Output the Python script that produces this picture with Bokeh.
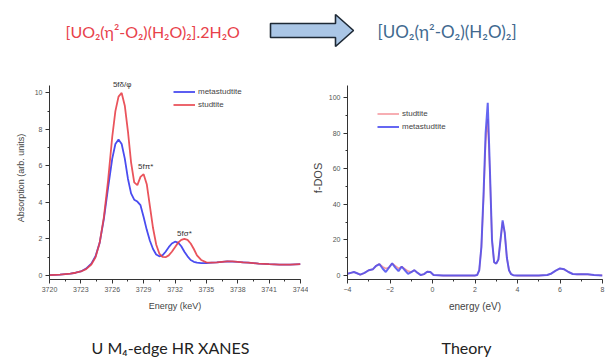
from bokeh.plotting import figure
from bokeh.layouts import column, row
from bokeh.models import (Range1d, Label, Legend, LegendItem, SingleIntervalTicker)
from bokeh.embed import file_html
from bokeh.resources import INLINE

# ---------------- data ----------------
xanes_energy = [3720, 3721, 3722, 3722.5, 3723, 3723.5, 3724, 3724.4, 3724.8, 3725.2, 3725.6,
                3726.0, 3726.3, 3726.6, 3726.9, 3727.2, 3727.5, 3727.8, 3728.1, 3728.4, 3728.7,
                3729.0, 3729.3, 3729.6, 3729.9, 3730.2, 3730.5, 3730.8, 3731.1, 3731.4, 3731.7,
                3732.0, 3732.3, 3732.6, 3732.9, 3733.2, 3733.5, 3733.8, 3734.1, 3734.5, 3735,
                3735.5, 3736, 3736.5, 3737, 3737.5, 3738, 3738.5, 3739, 3740, 3741, 3742, 3743, 3744]
xanes_studtite = [0.02, 0.05, 0.1, 0.15, 0.22, 0.35, 0.6, 1.0, 1.8, 3.2, 5.2,
                  7.6, 9.0, 9.8, 10.0, 9.3, 7.9, 6.2, 5.1, 4.95, 5.4,
                  5.55, 5.0, 3.8, 2.6, 1.7, 1.2, 1.02, 1.0, 1.1, 1.3,
                  1.55, 1.8, 1.95, 2.0, 1.95, 1.75, 1.45, 1.1, 0.85, 0.72,
                  0.7, 0.72, 0.75, 0.77, 0.77, 0.75, 0.72, 0.7, 0.65, 0.62, 0.6, 0.6, 0.62]
xanes_metastudtite = [0.02, 0.05, 0.1, 0.15, 0.22, 0.38, 0.65, 1.05, 1.8, 3.1, 4.8,
                      6.4, 7.2, 7.45, 7.2, 6.4, 5.3, 4.5, 4.15, 4.05, 3.85,
                      3.2, 2.5, 1.9, 1.45, 1.15, 1.05, 1.1, 1.3, 1.55, 1.75,
                      1.85, 1.8, 1.6, 1.3, 1.05, 0.85, 0.75, 0.7, 0.68, 0.68,
                      0.7, 0.72, 0.75, 0.77, 0.76, 0.74, 0.72, 0.7, 0.65, 0.62, 0.6, 0.6, 0.62]

dos_energy = [-4, -3.85, -3.7, -3.55, -3.4, -3.2, -3.0, -2.8, -2.65, -2.5, -2.35, -2.2, -2.05,
              -1.9, -1.75, -1.6, -1.45, -1.3, -1.15, -1.0, -0.85, -0.7, -0.55, -0.4, -0.25, -0.1,
              0.05, 0.5, 1.0, 1.5, 2.0, 2.1, 2.2, 2.3, 2.4, 2.5, 2.6, 2.7, 2.8, 2.9, 3.0, 3.1,
              3.2, 3.3, 3.4, 3.5, 3.6, 3.7, 3.8, 4.0, 4.5, 5.0, 5.4, 5.6, 5.8, 6.0, 6.2, 6.4,
              6.6, 6.8, 7.0, 7.3, 7.6, 8.0]
dos_metastudtite = [1.0, 1.5, 2.0, 1.3, 0.5, 1.5, 3.0, 3.6, 5.5, 6.5, 4.0, 2.0, 4.5,
                    6.8, 4.5, 2.5, 5.0, 3.0, 1.0, 2.0, 3.0, 1.5, 0.3, 0.8, 2.2, 2.0,
                    0.3, 0, 0, 0, 0, 0.3, 3, 16, 45, 80, 97, 60, 20, 7.5, 6.7, 9,
                    20, 31, 24, 10, 3, 0.8, 0.2, 0, 0, 0, 0.3, 1.2, 2.8, 4.0, 3.5, 2.0,
                    0.9, 0.7, 0.8, 0.7, 0.3, 0.1]
dos_studtite = [1.0, 1.5, 2.0, 1.3, 0.5, 1.5, 3.0, 3.6, 5.5, 6.5, 5.0, 4.0, 4.5,
                6.8, 5.5, 4.0, 5.0, 3.8, 2.5, 2.0, 3.0, 1.5, 0.3, 0.8, 2.2, 2.0,
                0.3, 0, 0, 0, 0, 0.3, 3, 16, 43, 75, 88, 58, 20, 7.5, 6.7, 9,
                20, 30, 24, 10, 3, 0.8, 0.2, 0, 0, 0, 0.3, 1.2, 2.8, 4.0, 3.5, 2.0,
                0.9, 0.7, 0.8, 0.7, 0.3, 0.1]

peak_labels = ["5fδ/φ", "5fπ*", "5fσ*"]
peak_label_x = [3726.95, 3729.2, 3732.9]
peak_label_y = [10.45, 5.96, 2.31]

formula_before = "[UO₂(η²-O₂)(H₂O)₂].2H₂O"
formula_after = "[UO₂(η²-O₂)(H₂O)₂]"
title_left = "U M₄-edge HR XANES"
title_right = "Theory"

RED = "#e8414a"
BLUE = "#4a4cf0"
PINK = "#f59aa0"
AXIS_FONT = "Liberation Sans"
TITLE_FONT = "Lato"


def blank(width, height, yh):
    p = figure(width=width, height=height, x_range=Range1d(0, width), y_range=Range1d(yh, 0),
               output_backend="svg", toolbar_location=None, min_border=0)
    p.axis.visible = False
    p.grid.visible = False
    p.outline_line_color = None
    return p


def style(p):
    p.grid.visible = False
    p.outline_line_color = None
    for ax in (p.xaxis[0], p.yaxis[0]):
        ax.axis_line_color = "#333333"
        ax.major_tick_line_color = "#333333"
        ax.minor_tick_line_color = "#333333"
        ax.major_tick_out = 4
        ax.major_tick_in = 0
        ax.minor_tick_out = 2
        ax.minor_tick_in = 0
        ax.major_label_text_font = AXIS_FONT
        ax.major_label_text_color = "#555555"
        ax.axis_label_text_font = AXIS_FONT
        ax.axis_label_text_font_style = "normal"
        ax.axis_label_text_color = "#444444"
        ax.major_label_standoff = 3


# ---------------- top banner ----------------
top = blank(605, 70, 70)
top.add_layout(Label(x=65, y=31, text=formula_before, text_color=RED, text_font=TITLE_FONT,
                     text_font_size="16px", text_baseline="middle", text_align="left"))
top.add_layout(Label(x=377, y=31, text=formula_after, text_color="#41698f", text_font=TITLE_FONT,
                     text_font_size="17px", text_baseline="middle", text_align="left"))
top.patch([270, 335, 335, 353, 335, 335, 270], [23, 23, 14, 30, 46, 37, 37],
          fill_color="#aac6e6", line_color="#1e2935", line_width=1.6)

# ---------------- left plot: XANES ----------------
left = figure(width=308, height=245, x_range=Range1d(3720, 3744), y_range=Range1d(-0.22, 10.9),
              output_backend="svg", toolbar_location=None,
              min_border_left=49, min_border_right=8, min_border_top=6, min_border_bottom=36)
style(left)
left.xaxis[0].ticker = SingleIntervalTicker(interval=3, num_minor_ticks=2)
left.yaxis[0].ticker = SingleIntervalTicker(interval=2, num_minor_ticks=2)
left.yaxis[0].bounds = (-0.22, 10.38)
left.xaxis.axis_label = "Energy (keV)"
left.yaxis.axis_label = "Absorption (arb. units)"
left.xaxis.major_label_text_font_size = "7px"
left.yaxis.major_label_text_font_size = "7px"
left.xaxis.axis_label_text_font_size = "9px"
left.yaxis.axis_label_text_font_size = "9px"
left.xaxis.axis_label_standoff = 6
left.yaxis.axis_label_standoff = 6

r_meta = left.line(xanes_energy, xanes_metastudtite, line_color=BLUE, line_width=1.8)
r_stud = left.line(xanes_energy, xanes_studtite, line_color=RED, line_width=1.8, line_alpha=0.9)
for t, x, y in zip(peak_labels, peak_label_x, peak_label_y):
    left.add_layout(Label(x=x, y=y, text=t, text_font=AXIS_FONT, text_font_size="8px",
                          text_color="#333333", text_align="center", text_baseline="middle"))
leg_l = Legend(items=[LegendItem(label="metastudtite", renderers=[r_meta]),
                      LegendItem(label="studtite", renderers=[r_stud])],
               location=(124, 168), padding=0, margin=0, spacing=0, glyph_width=22,
               glyph_height=13, label_height=13, label_standoff=3,
               label_text_font=AXIS_FONT, label_text_font_size="8px", label_text_color="#444444",
               border_line_color=None, background_fill_alpha=0)
left.add_layout(leg_l)

# ---------------- right plot: theory ----------------
right = figure(width=297, height=245, x_range=Range1d(-4, 8), y_range=Range1d(-2.2, 111.8),
               output_backend="svg", toolbar_location=None,
               min_border_left=35, min_border_right=3, min_border_top=6, min_border_bottom=36)
style(right)
right.xaxis[0].ticker = SingleIntervalTicker(interval=2, num_minor_ticks=2)
right.yaxis[0].ticker = SingleIntervalTicker(interval=20, num_minor_ticks=2)
right.yaxis[0].bounds = (-2.2, 106.6)
right.xaxis.axis_label = "energy (eV)"
right.yaxis.axis_label = "f-DOS"
right.xaxis.major_label_text_font_size = "7px"
right.yaxis.major_label_text_font_size = "7px"
right.xaxis.axis_label_text_font_size = "10px"
right.yaxis.axis_label_text_font_size = "11px"
right.xaxis.axis_label_standoff = 6
right.yaxis.axis_label_standoff = 2

r_stud2 = right.line(dos_energy, dos_studtite, line_color=PINK, line_width=1.6)
r_meta2 = right.line(dos_energy, dos_metastudtite, line_color=BLUE, line_width=2, line_alpha=0.85)
leg_r = Legend(items=[LegendItem(label="studtite", renderers=[r_stud2]),
                      LegendItem(label="metastudtite", renderers=[r_meta2])],
               location=(30, 146), padding=0, margin=0, spacing=0, glyph_width=22,
               glyph_height=13, label_height=13, label_standoff=3,
               label_text_font=AXIS_FONT, label_text_font_size="8px", label_text_color="#444444",
               border_line_color=None, background_fill_alpha=0)
right.add_layout(leg_r)

# ---------------- bottom titles ----------------
bottom = blank(605, 42, 42)
bottom.add_layout(Label(x=170, y=32, text=title_left, text_font=TITLE_FONT, text_font_size="16px",
                        text_color="#222222", text_align="center", text_baseline="middle"))
bottom.add_layout(Label(x=466, y=32, text=title_right, text_font=TITLE_FONT, text_font_size="16px",
                        text_color="#222222", text_align="center", text_baseline="middle"))

layout = column(top, row(left, right), bottom)
open("out.html", "w").write(file_html(layout, INLINE))
